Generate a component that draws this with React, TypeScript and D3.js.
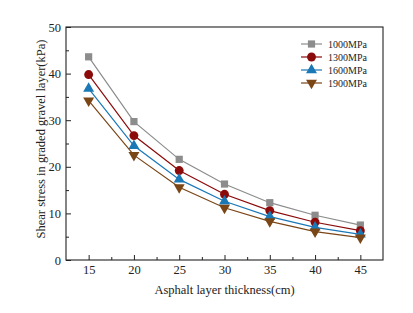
import React, { useRef, useEffect } from "react";
import * as d3 from "d3";

const thickness = [15, 20, 25, 30, 35, 40, 45];
const s1000 = [43.6, 29.7, 21.6, 16.3, 12.3, 9.6, 7.5];
const s1300 = [39.8, 26.7, 19.2, 14.1, 10.6, 8.1, 6.3];
const s1600 = [36.8, 24.5, 17.3, 12.6, 9.3, 7.0, 5.5];
const s1900 = [34.2, 22.5, 15.6, 11.2, 8.3, 6.1, 4.8];
const seriesNames = ["1000MPa", "1300MPa", "1600MPa", "1900MPa"];
const yTicks = [0, 10, 20, 30, 40, 50];

const W = 413;
const H = 313;
const margin = { left: 66, right: 30, top: 27, bottom: 53 };
const FONT = "'Liberation Serif', 'Times New Roman', serif";

const App: React.FC = () => {
  const svgRef = useRef<SVGSVGElement | null>(null);

  useEffect(() => {
    const svg = d3.select(svgRef.current);
    svg.selectAll("*").remove();

    const x = d3.scaleLinear().domain([12.5, 47.5]).range([margin.left, W - margin.right]);
    const y = d3.scaleLinear().domain([0, 50]).range([H - margin.bottom, margin.top]);

    const series = [
      { name: seriesNames[0], values: s1000, color: "#8c8c8c", marker: "square" },
      { name: seriesNames[1], values: s1300, color: "#8b0a0a", marker: "circle" },
      { name: seriesNames[2], values: s1600, color: "#1a78b6", marker: "up" },
      { name: seriesNames[3], values: s1900, color: "#7b4616", marker: "down" },
    ];

    // frame
    svg.append("rect")
      .attr("x", margin.left)
      .attr("y", margin.top)
      .attr("width", W - margin.left - margin.right)
      .attr("height", H - margin.top - margin.bottom)
      .attr("fill", "none")
      .attr("stroke", "#222")
      .attr("stroke-width", 1.1);

    // bottom axis, ticks inward
    const xAxis = d3.axisBottom(x).tickValues(thickness).tickSize(-5).tickPadding(5).tickFormat(d3.format("d"));
    const gx = svg.append("g").attr("transform", `translate(0,${H - margin.bottom})`).call(xAxis);
    gx.select(".domain").remove();
    const xMinor = d3.axisBottom(x).tickValues(thickness.slice(0, -1).map((d) => d + 2.5)).tickSize(-3).tickFormat(() => "");
    const gxm = svg.append("g").attr("transform", `translate(0,${H - margin.bottom})`).call(xMinor);
    gxm.select(".domain").remove();

    // left axis, ticks inward
    const yAxis = d3.axisLeft(y).tickValues(yTicks).tickSize(-5).tickPadding(5);
    const gy = svg.append("g").attr("transform", `translate(${margin.left},0)`).call(yAxis);
    gy.select(".domain").remove();
    const yMinor = d3.axisLeft(y).tickValues(yTicks.slice(0, -1).map((d) => d + 5)).tickSize(-3).tickFormat(() => "");
    const gym = svg.append("g").attr("transform", `translate(${margin.left},0)`).call(yMinor);
    gym.select(".domain").remove();

    svg.selectAll(".tick line").attr("stroke", "#222");
    svg.selectAll(".tick text")
      .style("font-family", FONT)
      .style("font-size", "12.5px")
      .attr("fill", "#222");

    // axis titles
    svg.append("text")
      .attr("x", (margin.left + W - margin.right) / 2)
      .attr("y", 294)
      .attr("text-anchor", "middle")
      .style("font-family", FONT)
      .style("font-size", "12.5px")
      .attr("fill", "#222")
      .text("Asphalt layer thickness(cm)");

    svg.append("text")
      .attr("transform", `translate(45,${139}) rotate(-90)`)
      .attr("text-anchor", "middle")
      .style("font-family", FONT)
      .style("font-size", "12.5px")
      .attr("fill", "#222")
      .text("Shear stress in graded gravel layer(kPa)");

    const symbolFor = (m: string) => {
      if (m === "square") return d3.symbol().type(d3.symbolSquare).size(52)();
      if (m === "circle") return d3.symbol().type(d3.symbolCircle).size(62)();
      return d3.symbol().type(d3.symbolTriangle).size(52)();
    };
    const rot = (m: string) => (m === "down" ? " rotate(180)" : "");

    const line = d3.line<number>()
      .x((_, i) => x(thickness[i]))
      .y((d) => y(d));

    series.forEach((s) => {
      svg.append("path")
        .attr("d", line(s.values))
        .attr("fill", "none")
        .attr("stroke", s.color)
        .attr("stroke-width", 1.2);

      svg.selectAll(null)
        .data(s.values)
        .enter()
        .append("path")
        .attr("d", symbolFor(s.marker))
        .attr("transform", (d, i) => `translate(${x(thickness[i])},${y(d)})${rot(s.marker)}`)
        .attr("fill", s.color);
    });

    // legend
    const lg = svg.append("g");
    series.forEach((s, i) => {
      const ly = 44 + i * 13;
      lg.append("line")
        .attr("x1", 301).attr("x2", 322)
        .attr("y1", ly).attr("y2", ly)
        .attr("stroke", s.color)
        .attr("stroke-width", 1.2);
      lg.append("path")
        .attr("d", symbolFor(s.marker))
        .attr("transform", `translate(311.5,${ly})${rot(s.marker)}`)
        .attr("fill", s.color);
      lg.append("text")
        .attr("x", 328)
        .attr("y", ly)
        .attr("dy", "0.35em")
        .style("font-family", FONT)
        .style("font-size", "10px")
        .attr("fill", "#222")
        .text(s.name);
    });
  }, []);

  return <svg ref={svgRef} width={W} height={H} style={{ display: "block", position: "absolute", left: 0, top: 0, background: "#fff" }} />;
};

export default App;
